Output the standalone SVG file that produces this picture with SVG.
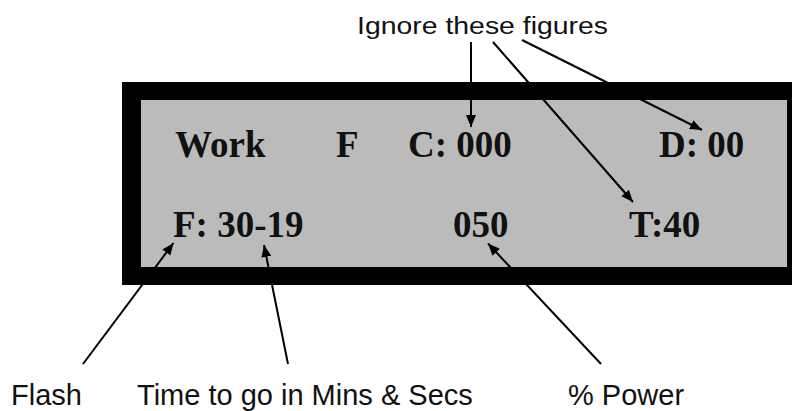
<svg xmlns="http://www.w3.org/2000/svg" width="792" height="411" viewBox="0 0 792 411">
  <defs>
    <marker id="arrow" markerUnits="userSpaceOnUse" markerWidth="13" markerHeight="11" refX="12" refY="5" orient="auto">
      <path d="M0,0 L12,5 L0,10 z" fill="#000"/>
    </marker>
    <style>
      .lcd { font-family: "Liberation Serif", "Times New Roman", serif; font-weight: bold; font-size: 37px; fill: #111; }
      .lbl { font-family: "Liberation Sans", Arial, sans-serif; font-size: 29px; fill: #111; }
      .conn line { stroke: #000; stroke-width: 2; marker-end: url(#arrow); }
    </style>
  </defs>
  <rect width="792" height="411" fill="#fff"/>

  <g id="display">
    <rect x="122" y="82" width="680" height="203" fill="#000"/>
    <rect x="141" y="100" width="646" height="167" fill="#bbbbbb"/>
    <text class="lcd" x="175" y="157">Work</text>
    <text class="lcd" x="336" y="157">F</text>
    <text class="lcd" x="408" y="157">C: 000</text>
    <text class="lcd" x="659" y="157">D: 00</text>
    <text class="lcd" x="173" y="237">F: 30-19</text>
    <text class="lcd" x="453" y="237">050</text>
    <text class="lcd" x="629" y="237">T:40</text>
  </g>

  <g id="label-ignore">
    <text x="357" y="33.5" font-family="Liberation Sans, Arial, sans-serif" font-size="23" fill="#111" textLength="251" lengthAdjust="spacingAndGlyphs">Ignore these figures</text>
  </g>
  <g id="label-flash">
    <text class="lbl" x="11" y="405">Flash</text>
  </g>
  <g id="label-time">
    <text class="lbl" x="137" y="405">Time to go in Mins &amp; Secs</text>
  </g>
  <g id="label-power">
    <text class="lbl" x="568" y="405">% Power</text>
  </g>

  <g id="connectors" class="conn">
    <line x1="471" y1="42" x2="471" y2="127"/>
    <line x1="493" y1="42" x2="633" y2="202"/>
    <line x1="522" y1="40" x2="702" y2="130"/>
    <line x1="83" y1="364" x2="173.5" y2="243"/>
    <line x1="288" y1="364" x2="264" y2="245"/>
    <line x1="601" y1="364" x2="488" y2="243.5"/>
  </g>
</svg>
